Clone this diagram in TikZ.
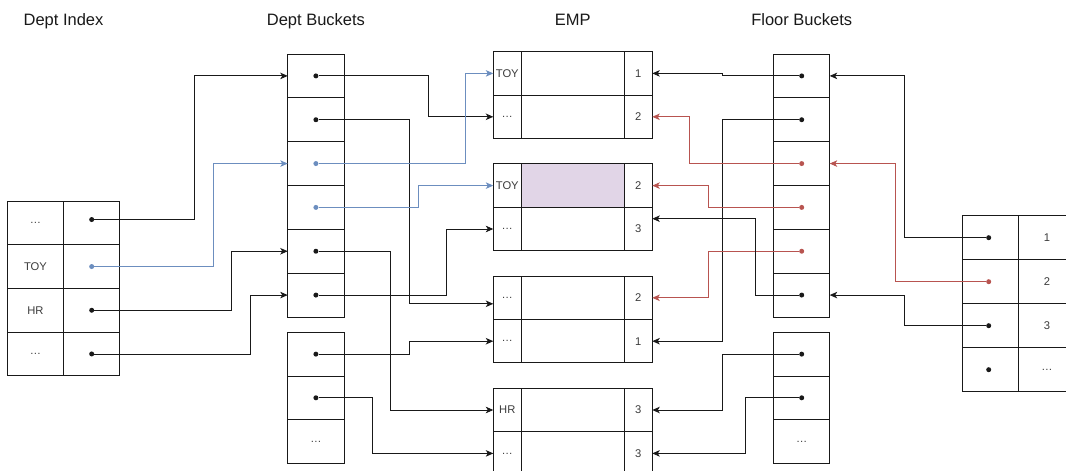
\documentclass[tikz,border=0pt]{standalone}
\usepackage{fontspec}
\setmainfont{Liberation Sans}
\usetikzlibrary{arrows.meta}
\definecolor{ink}{RGB}{25,25,25}
\definecolor{dblue}{HTML}{6C8EBF}
\definecolor{dred}{HTML}{B85450}
\definecolor{lilac}{HTML}{E1D5E7}
\tikzset{
  >={Stealth[length=7.5pt,width=6.5pt,inset=2pt]},
  cell/.style={draw=ink,line width=0.9pt,minimum width=#1,minimum height=43.8pt,
    inner sep=0pt,outer sep=0pt,text=ink!85,font=\fontsize{11.2}{13}\selectfont},
  cell/.default=56.3pt,
  ptr/.style={circle,fill=#1,inner sep=0pt,minimum size=5pt},
  ptr/.default=ink,
  link/.style={->,line width=0.9pt,draw=#1},
  link/.default=ink,
  title/.style={font=\fontsize{16.5}{20}\selectfont,text=ink,anchor=base},
}
\begin{document}
\begin{tikzpicture}[x=1pt,y=-1pt]
  \useasboundingbox (0,0) rectangle (1066,471);
  % titles
  \node[title] (tdi) at (63.5,25) {Dept Index};
  \node[title] (tdb) at (315.9,25) {Dept Buckets};
  \node[title] (temp) at (572.8,25) {EMP};
  \node[title] (tfb) at (801.7,25) {Floor Buckets};

  % dept index
  \foreach \lab/\col/\dy [count=\i] in {\dots/ink/3.3,TOY/dblue/0,HR/ink/0,\dots/ink/0}{
    \node[cell=56.4pt,minimum height=43.7pt] (dil\i) at (35.5,{201+(\i-0.5)*43.7}) {\lab};
    \node[cell=56pt,minimum height=43.7pt] (dir\i) at (91.7,{201+(\i-0.5)*43.7}) {};
    \node[ptr=\col] (dip\i) at ([yshift=\dy pt]dir\i.center) {};
  }

  % dept buckets
  \foreach \col [count=\i] in {ink,ink,dblue,dblue,ink,ink}{
    \node[cell] (dbu\i) at (315.9,{54+(\i-0.5)*43.83}) {};
    \node[ptr=\col] (dbp\i) at (dbu\i) {};
  }
  \foreach \i in {1,2}{
    \node[cell,minimum height=43.67pt] (dbl\i) at (315.9,{332.3+(\i-0.5)*43.67}) {};
    \node[ptr] (dbq\i) at (dbl\i) {};
  }
  \node[cell,minimum height=43.67pt] (dbl3) at (315.9,{332.3+2.5*43.67}) {\dots};

  % EMP records
  \foreach \k/\la/\na/\lb/\nb/\fc in {1/TOY/1/\dots/2/white,2/TOY/2/\dots/3/lilac,
      3/\dots/2/\dots/1/white,4/HR/3/\dots/3/white}{
    \pgfmathsetmacro\ytop{51.7+(\k-1)*112.2}
    \node[cell=28pt,minimum height=43.4pt] (eL\k1) at (507.3,{\ytop+21.7}) {\la};
    \node[cell=103pt,minimum height=43.4pt,fill=\fc] (eM\k1) at (572.8,{\ytop+21.7}) {};
    \node[cell=28pt,minimum height=43.4pt] (eR\k1) at (638.3,{\ytop+21.7}) {\na};
    \node[cell=28pt,minimum height=43.4pt] (eL\k2) at (507.3,{\ytop+65.1}) {\lb};
    \node[cell=103pt,minimum height=43.4pt] (eM\k2) at (572.8,{\ytop+65.1}) {};
    \node[cell=28pt,minimum height=43.4pt] (eR\k2) at (638.3,{\ytop+65.1}) {\nb};
  }

  % floor buckets
  \foreach \col [count=\i] in {ink,ink,dred,dred,dred,ink}{
    \node[cell=56pt] (fbu\i) at (801.7,{54+(\i-0.5)*43.83}) {};
    \node[ptr=\col] (fbp\i) at (fbu\i) {};
  }
  \foreach \i in {1,2}{
    \node[cell=56pt,minimum height=43.67pt] (fbl\i) at (801.7,{332.3+(\i-0.5)*43.67}) {};
    \node[ptr] (fbq\i) at (fbl\i) {};
  }
  \node[cell=56pt,minimum height=43.67pt] (fbl3) at (801.7,{332.3+2.5*43.67}) {\dots};

  % floor index
  \foreach \lab/\col [count=\i] in {1/ink,2/dred,3/ink,\dots/ink}{
    \node[cell=56.4pt,minimum height=44pt] (fil\i) at (990.5,{215.7+(\i-0.5)*44}) {};
    \node[cell=56.4pt,minimum height=44pt] (fir\i) at (1046.9,{215.7+(\i-0.5)*44}) {\lab};
    \node[ptr=\col] (fip\i) at ([xshift=-1.8pt]fil\i.center) {};
  }

  % dept index -> dept buckets
  \draw[link] (dip1) -- (194.3,0 |- dip1) |- (dbu1.west);
  \draw[link=dblue] (dip2) -- (213.3,0 |- dip2) |- (dbu3.west);
  \draw[link] (dip3) -- (231.7,0 |- dip3) |- (dbu5.west);
  \draw[link] (dip4) -- (250.7,0 |- dip4) |- (dbu6.west);

  % dept buckets -> EMP
  \draw[link] (dbp1) -- (428,0 |- dbp1) |- (eL12.west);
  \draw[link] (dbp2) -- (409,0 |- dbp2) |- ([yshift=-6pt]eL31.west);
  \draw[link=dblue] (dbp3) -- (465,0 |- dbp3) |- (eL11.west);
  \draw[link=dblue] (dbp4) -- (418.7,0 |- dbp4) |- (eL21.west);
  \draw[link] (dbp5) -- (390.7,0 |- dbp5) |- (eL41.west);
  \draw[link] (dbp6) -- (446.5,0 |- dbp6) |- (eL22.west);
  \draw[link] (dbq1) -- (409.3,0 |- dbq1) |- (eL32.west);
  \draw[link] (dbq2) -- (372,0 |- dbq2) |- (eL42.west);

  % floor buckets -> EMP
  \draw[link] (fbp1) -- (722.3,0 |- fbp1) |- (eR11.east);
  \draw[link] (fbp2) -- (722.3,0 |- fbp2) |- (eR32.east);
  \draw[link=dred] (fbp3) -- (689.3,0 |- fbp3) |- (eR12.east);
  \draw[link=dred] (fbp4) -- (708.3,0 |- fbp4) |- (eR21.east);
  \draw[link=dred] (fbp5) -- (708.3,0 |- fbp5) |- (eR31.east);
  \draw[link] (fbp6) -- (755,0 |- fbp6) |- ([yshift=10.3pt]eR22.east);
  \draw[link] (fbq1) -- (722.3,0 |- fbq1) |- (eR41.east);
  \draw[link] (fbq2) -- (745.7,0 |- fbq2) |- (eR42.east);

  % floor index -> floor buckets
  \draw[link] (fip1) -- (904.3,0 |- fip1) |- (fbu1.east);
  \draw[link=dred] (fip2) -- (895,0 |- fip2) |- (fbu3.east);
  \draw[link] (fip3) -- (904.3,0 |- fip3) |- (fbu6.east);
\end{tikzpicture}
\end{document}
